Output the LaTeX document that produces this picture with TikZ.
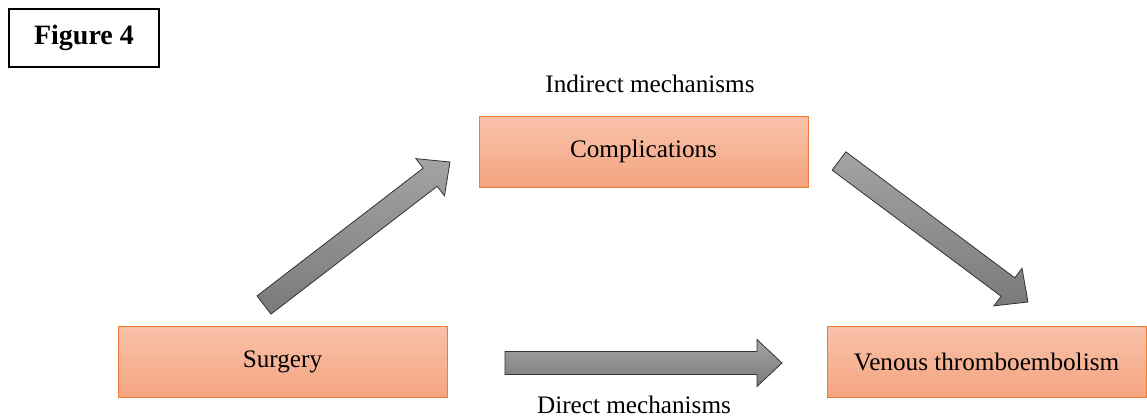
\documentclass[tikz,border=0pt]{standalone}
\usepackage{xcolor}
\usepackage{fontspec}
\setmainfont{Liberation Serif}
\usepackage{tikz}
\usetikzlibrary{positioning,calc}

\definecolor{boxtop}{HTML}{F8C2AA}
\definecolor{boxbottom}{HTML}{F4A480}
\definecolor{boxline}{HTML}{ED7D31}

\tikzset{
  stage/.style={rectangle, top color=boxtop, bottom color=boxbottom, draw=boxline,
    line width=0.75pt, minimum width=246.75pt, minimum height=53.25pt, text centered},
  caption/.style={anchor=base, text centered},
  fatarrow/.style={top color=black!36, bottom color=black!52, draw=black!80, line width=0.6pt},
}

% tail, tip
\newcommand{\blockarrow}[2]{%
  \coordinate (base) at ($(#2)!18.75pt!(#1)$);
  \path[fatarrow] ($(#1)!8.6pt!90:(#2)$) -- ($(base)!8.6pt!-90:(#1)$)
    -- ($(base)!17.6pt!-90:(#1)$) -- (#2) -- ($(base)!17.6pt!90:(#1)$)
    -- ($(base)!8.6pt!90:(#1)$) -- ($(#1)!8.6pt!-90:(#2)$) -- cycle;}

\begin{document}
\begin{tikzpicture}[x=0.75pt, y=0.75pt]

\tikzstyle{every node}=[font=\fontsize{18.9}{22}\selectfont]
\useasboundingbox (0,0) rectangle (1147,419);

% nodes %
\node[draw, line width=1.5pt, minimum width=112.5pt, minimum height=43.5pt,
  font=\fontsize{21}{25}\selectfont\bfseries] (fig) at (84,381) {Figure 4};

\node[stage] (comp) at (643.5,267.5) {\raisebox{-3pt}{Complications}};
\node[stage] (surg) at (282.5,57.5) {Surgery};
\node[stage, minimum width=239.25pt] (vte) at (986.5,57.5) {Venous thromboembolism};

\node[caption] (indirect) at (650,327) {Indirect mechanisms};
\node[caption] (direct) at (634,6) {Direct mechanisms};

% arrows %
\coordinate (up tail) at (264,114);
\coordinate (up tip) at (450,257);
\coordinate (down tail) at (839,258);
\coordinate (down tip) at (1028,117);
\coordinate (flat tail) at (505,56);
\coordinate (flat tip) at (782,56);

\blockarrow{up tail}{up tip}
\blockarrow{down tail}{down tip}
\blockarrow{flat tail}{flat tip}

\end{tikzpicture}
\end{document}
